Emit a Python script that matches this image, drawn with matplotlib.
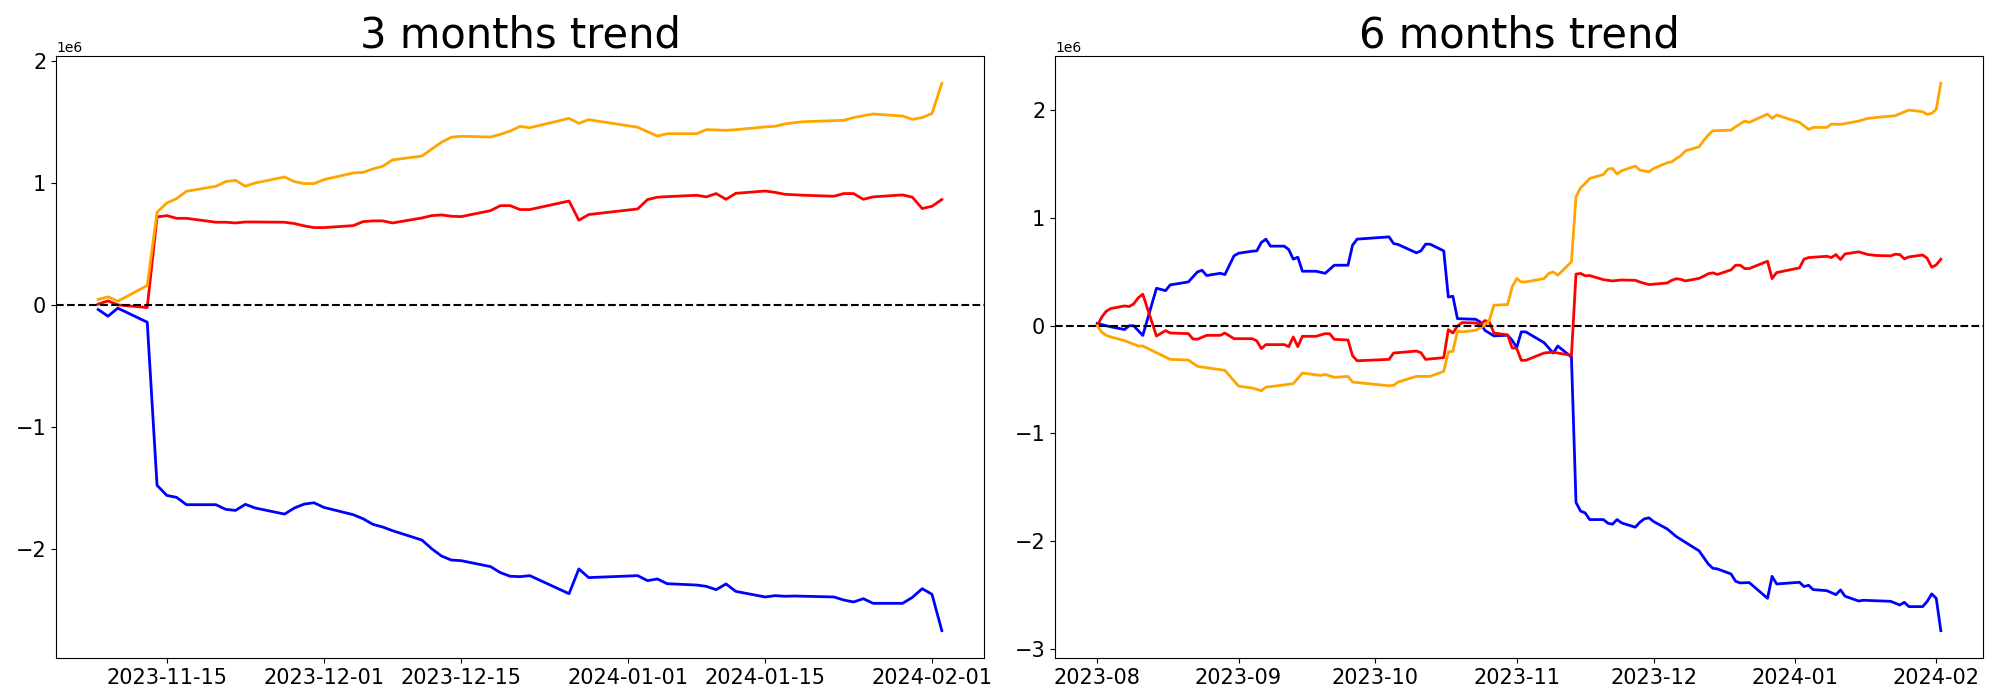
# 3 and 6 month cumulative trend of three series
import matplotlib.pyplot as plt
import matplotlib.dates as mdates
import numpy as np
import pandas as pd

# ---- 3 months data (values in millions) ----
dates3 = ['2023-11-08', '2023-11-09', '2023-11-10', '2023-11-13', '2023-11-14', '2023-11-15', '2023-11-16', '2023-11-17', '2023-11-20', '2023-11-21',
          '2023-11-22', '2023-11-23', '2023-11-24', '2023-11-27', '2023-11-28', '2023-11-29', '2023-11-30', '2023-12-01', '2023-12-04', '2023-12-05',
          '2023-12-06', '2023-12-07', '2023-12-08', '2023-12-11', '2023-12-12', '2023-12-13', '2023-12-14', '2023-12-15', '2023-12-18', '2023-12-19',
          '2023-12-20', '2023-12-21', '2023-12-22', '2023-12-26', '2023-12-27', '2023-12-28', '2024-01-02', '2024-01-03', '2024-01-04', '2024-01-05',
          '2024-01-08', '2024-01-09', '2024-01-10', '2024-01-11', '2024-01-12', '2024-01-15', '2024-01-16', '2024-01-17', '2024-01-18', '2024-01-19',
          '2024-01-22', '2024-01-23', '2024-01-24', '2024-01-25', '2024-01-26', '2024-01-29', '2024-01-30', '2024-01-31', '2024-02-01', '2024-02-02']
blue3 = [-0.038, -0.093, -0.027, -0.142, -1.480, -1.563, -1.579, -1.639, -1.639, -1.677,
         -1.686, -1.636, -1.666, -1.716, -1.666, -1.634, -1.623, -1.661, -1.721, -1.754,
         -1.800, -1.822, -1.852, -1.929, -2.000, -2.060, -2.093, -2.098, -2.147, -2.196,
         -2.226, -2.229, -2.221, -2.369, -2.166, -2.237, -2.221, -2.262, -2.248, -2.287,
         -2.298, -2.309, -2.336, -2.289, -2.350, -2.396, -2.385, -2.390, -2.388, -2.390,
         -2.396, -2.421, -2.437, -2.410, -2.448, -2.448, -2.399, -2.328, -2.374, -2.672]
red3 = [0.006, 0.033, 0.000, -0.022, 0.721, 0.732, 0.710, 0.710, 0.678, 0.678,
        0.672, 0.680, 0.680, 0.678, 0.667, 0.648, 0.634, 0.634, 0.650, 0.683,
        0.689, 0.689, 0.672, 0.713, 0.732, 0.738, 0.727, 0.724, 0.773, 0.814,
        0.814, 0.782, 0.782, 0.852, 0.694, 0.741, 0.787, 0.864, 0.883, 0.888,
        0.899, 0.886, 0.913, 0.866, 0.915, 0.934, 0.923, 0.907, 0.903, 0.899,
        0.891, 0.913, 0.913, 0.866, 0.886, 0.902, 0.883, 0.790, 0.809, 0.864]
orange3 = [0.044, 0.066, 0.030, 0.159, 0.760, 0.836, 0.872, 0.932, 0.973, 1.011,
           1.022, 0.973, 1.000, 1.049, 1.011, 0.995, 0.995, 1.027, 1.082, 1.087,
           1.115, 1.137, 1.189, 1.221, 1.278, 1.334, 1.375, 1.383, 1.377, 1.399,
           1.426, 1.464, 1.453, 1.530, 1.489, 1.519, 1.457, 1.420, 1.385, 1.404,
           1.404, 1.437, 1.435, 1.432, 1.437, 1.460, 1.465, 1.484, 1.495, 1.503,
           1.511, 1.514, 1.536, 1.552, 1.566, 1.549, 1.522, 1.536, 1.571, 1.817]

# ---- 6 months data (values in millions) ----
blue6_dates = ['2023-08-01', '2023-08-04', '2023-08-07', '2023-08-08', '2023-08-09', '2023-08-11', '2023-08-14', '2023-08-16', '2023-08-17', '2023-08-21',
               '2023-08-23', '2023-08-24', '2023-08-25', '2023-08-28', '2023-08-29', '2023-08-31', '2023-09-01', '2023-09-04', '2023-09-05', '2023-09-06',
               '2023-09-07', '2023-09-08', '2023-09-11', '2023-09-12', '2023-09-13', '2023-09-14', '2023-09-15', '2023-09-18', '2023-09-20', '2023-09-22',
               '2023-09-25', '2023-09-26', '2023-09-27', '2023-10-04', '2023-10-05', '2023-10-06', '2023-10-10', '2023-10-11', '2023-10-12', '2023-10-13',
               '2023-10-16', '2023-10-17', '2023-10-18', '2023-10-19', '2023-10-23', '2023-10-24', '2023-10-25', '2023-10-27', '2023-10-30', '2023-10-31',
               '2023-11-01', '2023-11-02', '2023-11-03', '2023-11-07', '2023-11-09', '2023-11-10', '2023-11-13', '2023-11-14', '2023-11-15', '2023-11-16',
               '2023-11-17', '2023-11-20', '2023-11-21', '2023-11-22', '2023-11-23', '2023-11-24', '2023-11-27', '2023-11-28', '2023-11-29', '2023-11-30',
               '2023-12-01', '2023-12-04', '2023-12-06', '2023-12-11', '2023-12-13', '2023-12-14', '2023-12-15', '2023-12-18', '2023-12-19', '2023-12-20',
               '2023-12-22', '2023-12-26', '2023-12-27', '2023-12-28', '2024-01-02', '2024-01-03', '2024-01-04', '2024-01-05', '2024-01-08', '2024-01-10',
               '2024-01-11', '2024-01-12', '2024-01-15', '2024-01-16', '2024-01-22', '2024-01-24', '2024-01-25', '2024-01-26', '2024-01-29', '2024-01-30',
               '2024-01-31', '2024-02-01', '2024-02-02']
blue6 = [0.020, -0.010, -0.035, 0.000, 0.000, -0.090, 0.348, 0.326, 0.379, 0.407,
         0.500, 0.515, 0.466, 0.487, 0.475, 0.649, 0.673, 0.692, 0.695, 0.773,
         0.804, 0.739, 0.739, 0.708, 0.618, 0.636, 0.506, 0.506, 0.487, 0.562,
         0.562, 0.748, 0.804, 0.825, 0.763, 0.754, 0.677, 0.695, 0.757, 0.757,
         0.695, 0.267, 0.274, 0.066, 0.060, 0.035, -0.042, -0.094, -0.088, -0.135,
         -0.203, -0.057, -0.057, -0.157, -0.253, -0.188, -0.290, -1.640, -1.720, -1.737,
         -1.799, -1.799, -1.833, -1.842, -1.799, -1.830, -1.870, -1.824, -1.792, -1.783,
         -1.817, -1.886, -1.957, -2.090, -2.211, -2.251, -2.257, -2.304, -2.372, -2.387,
         -2.384, -2.530, -2.326, -2.397, -2.381, -2.421, -2.409, -2.449, -2.459, -2.496,
         -2.452, -2.511, -2.555, -2.548, -2.558, -2.592, -2.567, -2.607, -2.607, -2.560,
         -2.489, -2.530, -2.830]

red6_dates = ['2023-08-01', '2023-08-02', '2023-08-03', '2023-08-04', '2023-08-07', '2023-08-08', '2023-08-09', '2023-08-10', '2023-08-11', '2023-08-14',
              '2023-08-16', '2023-08-17', '2023-08-21', '2023-08-22', '2023-08-23', '2023-08-25', '2023-08-28', '2023-08-29', '2023-08-31', '2023-09-04',
              '2023-09-05', '2023-09-06', '2023-09-07', '2023-09-11', '2023-09-12', '2023-09-13', '2023-09-14', '2023-09-15', '2023-09-18', '2023-09-20',
              '2023-09-21', '2023-09-22', '2023-09-25', '2023-09-26', '2023-09-27', '2023-10-04', '2023-10-05', '2023-10-10', '2023-10-11', '2023-10-12',
              '2023-10-16', '2023-10-17', '2023-10-18', '2023-10-19', '2023-10-20', '2023-10-23', '2023-10-24', '2023-10-25', '2023-10-26', '2023-10-27',
              '2023-10-30', '2023-10-31', '2023-11-01', '2023-11-02', '2023-11-03', '2023-11-07', '2023-11-09', '2023-11-10', '2023-11-13', '2023-11-14',
              '2023-11-15', '2023-11-16', '2023-11-17', '2023-11-20', '2023-11-22', '2023-11-24', '2023-11-27', '2023-11-28', '2023-11-30', '2023-12-04',
              '2023-12-05', '2023-12-06', '2023-12-07', '2023-12-08', '2023-12-11', '2023-12-12', '2023-12-13', '2023-12-14', '2023-12-15', '2023-12-18',
              '2023-12-19', '2023-12-20', '2023-12-21', '2023-12-22', '2023-12-26', '2023-12-27', '2023-12-28', '2024-01-02', '2024-01-03', '2024-01-04',
              '2024-01-08', '2024-01-09', '2024-01-10', '2024-01-11', '2024-01-12', '2024-01-15', '2024-01-17', '2024-01-19', '2024-01-22', '2024-01-23',
              '2024-01-24', '2024-01-25', '2024-01-26', '2024-01-29', '2024-01-30', '2024-01-31', '2024-02-01', '2024-02-02']
red6 = [0.000, 0.080, 0.135, 0.160, 0.184, 0.178, 0.203, 0.259, 0.293, -0.095,
        -0.045, -0.067, -0.073, -0.123, -0.125, -0.089, -0.089, -0.067, -0.120, -0.120,
        -0.140, -0.212, -0.175, -0.175, -0.194, -0.104, -0.194, -0.098, -0.098, -0.073,
        -0.075, -0.126, -0.132, -0.278, -0.325, -0.312, -0.253, -0.235, -0.250, -0.312,
        -0.296, -0.036, -0.067, -0.002, 0.029, 0.026, 0.010, 0.048, 0.035, -0.067,
        -0.085, -0.206, -0.210, -0.321, -0.321, -0.253, -0.244, -0.253, -0.275, 0.479,
        0.486, 0.464, 0.466, 0.428, 0.416, 0.425, 0.422, 0.406, 0.382, 0.397,
        0.422, 0.437, 0.430, 0.416, 0.440, 0.460, 0.483, 0.491, 0.476, 0.519,
        0.562, 0.562, 0.531, 0.531, 0.599, 0.438, 0.494, 0.537, 0.618, 0.633,
        0.645, 0.633, 0.661, 0.615, 0.667, 0.686, 0.661, 0.652, 0.649, 0.664,
        0.661, 0.621, 0.639, 0.657, 0.627, 0.543, 0.565, 0.617]

orange6_dates = ['2023-08-01', '2023-08-02', '2023-08-03', '2023-08-04', '2023-08-07', '2023-08-10', '2023-08-11', '2023-08-14', '2023-08-17', '2023-08-21',
                 '2023-08-23', '2023-08-29', '2023-09-01', '2023-09-04', '2023-09-06', '2023-09-07', '2023-09-13', '2023-09-15', '2023-09-19', '2023-09-20',
                 '2023-09-22', '2023-09-25', '2023-09-26', '2023-10-04', '2023-10-05', '2023-10-06', '2023-10-10', '2023-10-13', '2023-10-16', '2023-10-17',
                 '2023-10-18', '2023-10-19', '2023-10-20', '2023-10-23', '2023-10-25', '2023-10-26', '2023-10-27', '2023-10-30', '2023-10-31', '2023-11-01',
                 '2023-11-02', '2023-11-03', '2023-11-07', '2023-11-08', '2023-11-09', '2023-11-10', '2023-11-13', '2023-11-14', '2023-11-15', '2023-11-16',
                 '2023-11-17', '2023-11-20', '2023-11-21', '2023-11-22', '2023-11-23', '2023-11-24', '2023-11-27', '2023-11-28', '2023-11-30', '2023-12-01',
                 '2023-12-04', '2023-12-05', '2023-12-06', '2023-12-07', '2023-12-08', '2023-12-11', '2023-12-12', '2023-12-13', '2023-12-14', '2023-12-18',
                 '2023-12-19', '2023-12-21', '2023-12-22', '2023-12-26', '2023-12-27', '2023-12-28', '2024-01-02', '2024-01-04', '2024-01-05', '2024-01-08',
                 '2024-01-09', '2024-01-11', '2024-01-15', '2024-01-17', '2024-01-19', '2024-01-23', '2024-01-26', '2024-01-29', '2024-01-30', '2024-01-31',
                 '2024-02-01', '2024-02-02']
orange6 = [0.000, -0.060, -0.090, -0.104, -0.138, -0.188, -0.188, -0.250, -0.312, -0.318,
           -0.377, -0.414, -0.560, -0.578, -0.603, -0.570, -0.538, -0.439, -0.461, -0.452,
           -0.479, -0.470, -0.523, -0.557, -0.553, -0.522, -0.470, -0.470, -0.423, -0.243,
           -0.237, -0.051, -0.057, -0.042, 0.005, 0.051, 0.191, 0.197, 0.361, 0.438,
           0.407, 0.407, 0.438, 0.485, 0.500, 0.469, 0.593, 1.197, 1.280, 1.320,
           1.367, 1.404, 1.454, 1.460, 1.408, 1.439, 1.482, 1.445, 1.429, 1.460,
           1.513, 1.522, 1.553, 1.578, 1.624, 1.661, 1.720, 1.770, 1.810, 1.816,
           1.847, 1.900, 1.888, 1.965, 1.925, 1.956, 1.888, 1.823, 1.841, 1.841,
           1.872, 1.869, 1.900, 1.925, 1.934, 1.950, 2.002, 1.987, 1.962, 1.971,
           2.009, 2.250]

fig, (ax1, ax2) = plt.subplots(1, 2, figsize=(20, 7))

# left: 3 months
d3 = pd.to_datetime(dates3)
ax1.plot(d3, np.array(blue3) * 1e6, color='blue', linewidth=2)
ax1.plot(d3, np.array(red3) * 1e6, color='red', linewidth=2)
ax1.plot(d3, np.array(orange3) * 1e6, color='orange', linewidth=2)
ax1.axhline(0, color='black', linestyle='--', linewidth=1.5)
ax1.set_title('3 months trend', fontsize=30)
ax1.xaxis.set_major_locator(mdates.DayLocator(bymonthday=[1, 15]))
ax1.xaxis.set_major_formatter(mdates.DateFormatter('%Y-%m-%d'))
ax1.tick_params(labelsize=15)

# right: 6 months
ax2.plot(pd.to_datetime(blue6_dates), np.array(blue6) * 1e6, color='blue', linewidth=2)
ax2.plot(pd.to_datetime(red6_dates), np.array(red6) * 1e6, color='red', linewidth=2)
ax2.plot(pd.to_datetime(orange6_dates), np.array(orange6) * 1e6, color='orange', linewidth=2)
ax2.axhline(0, color='black', linestyle='--', linewidth=1.5)
ax2.set_title('6 months trend', fontsize=30)
ax2.xaxis.set_major_locator(mdates.MonthLocator())
ax2.xaxis.set_major_formatter(mdates.DateFormatter('%Y-%m'))
ax2.tick_params(labelsize=15)

plt.subplots_adjust(left=0.028, right=0.9915, bottom=0.06, top=0.92, wspace=0.0765)
plt.savefig('out.png', dpi=100)
